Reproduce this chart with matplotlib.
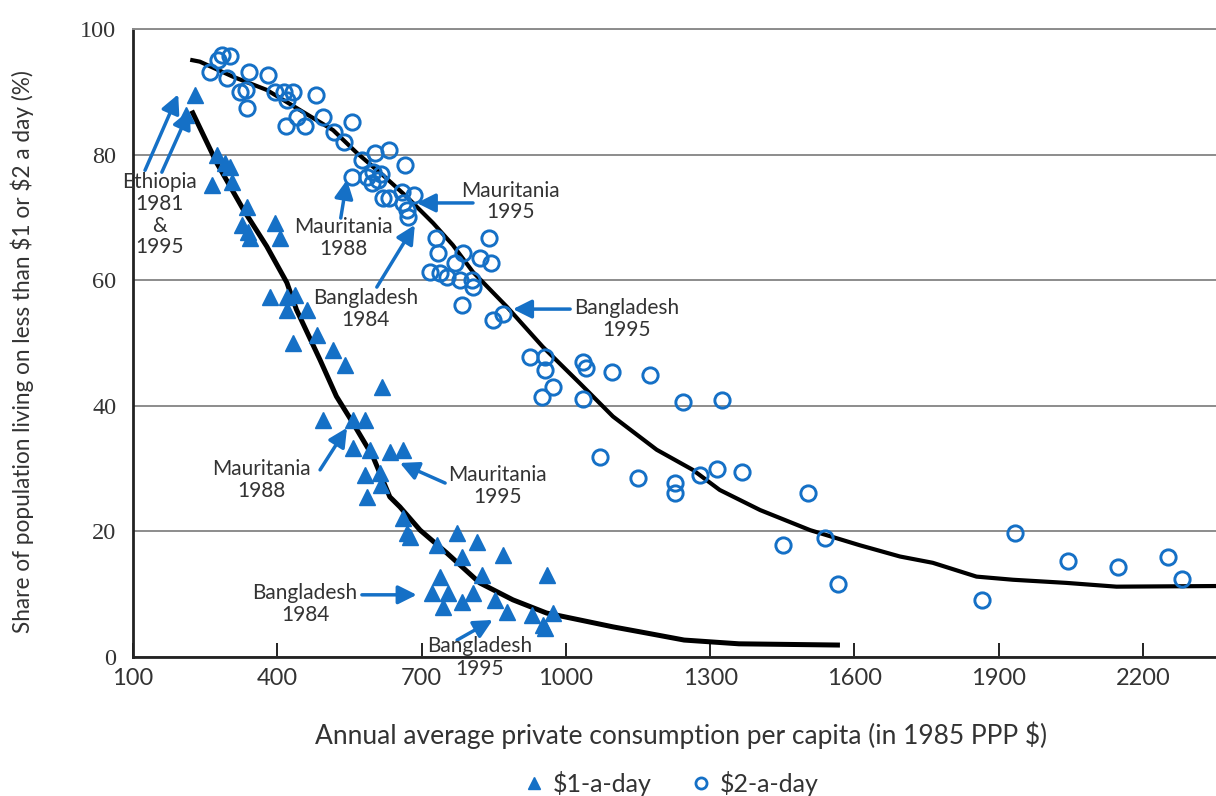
import matplotlib
matplotlib.use('Agg')
import matplotlib.pyplot as plt
from matplotlib.lines import Line2D

plt.rcParams['font.family'] = ['Lato', 'DejaVu Sans']

BLUE = '#1570c6'
TXT = '#333333'

# $1-a-day observations (consumption, % poor)
one_x = [229, 210, 275, 291, 302, 264, 306, 337, 327, 339, 343, 395, 406,
         385, 420, 437, 420, 462, 483, 433, 516, 541, 618, 495, 557, 582,
         557, 593, 634, 661, 582, 614, 616, 586, 661, 670, 676, 774, 815,
         732, 784, 869, 961, 738, 826, 722, 755, 807, 745, 784, 853, 878,
         930, 973, 952, 957]
one_y = [89.5, 86.3, 79.9, 78.7, 78.0, 75.2, 75.6, 71.7, 68.8, 67.7, 66.7,
         69.1, 66.7, 57.3, 57.3, 57.6, 55.3, 55.3, 51.3, 50.0, 48.9, 46.5,
         43.0, 37.7, 37.7, 37.7, 33.3, 33.0, 32.6, 33.0, 29.0, 29.3, 27.4,
         25.5, 22.1, 19.7, 19.1, 19.7, 18.3, 17.8, 15.9, 16.2, 13.1, 12.7,
         13.1, 10.2, 10.2, 10.2, 8.0, 8.8, 9.1, 7.2, 6.7, 7.0, 5.1, 4.6]

# $2-a-day observations
two_x = [260, 277, 285, 302, 295, 341, 322, 335, 337, 381, 395, 414, 433,
         420, 441, 418, 458, 480, 495, 518, 539, 555, 576, 603, 632, 665,
         555, 586, 599, 616, 597, 609, 620, 632, 659, 684, 661, 670, 672,
         730, 840, 734, 786, 821, 844, 769, 717, 738, 753, 780, 805, 807,
         784, 848, 869, 925, 957, 957, 1036, 1042, 1096, 1175, 973, 950,
         1036, 1243, 1325, 1071, 1150, 1227, 1227, 1279, 1314, 1366, 1503,
         1451, 1539, 1566, 1865, 1934, 2044, 2148, 2252, 2281]
two_y = [93.2, 95.1, 95.9, 95.7, 92.2, 93.2, 90.0, 90.3, 87.4, 92.7, 90.0,
         90.0, 90.0, 88.7, 86.0, 84.6, 84.6, 89.5, 86.0, 83.6, 82.0, 85.2,
         79.1, 80.3, 80.7, 78.3, 76.4, 76.4, 77.2, 76.9, 75.5, 76.0, 73.1,
         73.1, 74.0, 73.6, 72.3, 71.2, 70.1, 66.7, 66.7, 64.3, 64.3, 63.5,
         62.7, 62.7, 61.3, 61.1, 60.5, 60.0, 60.0, 58.9, 56.1, 53.7, 54.6,
         47.8, 47.8, 45.7, 47.0, 46.0, 45.4, 44.9, 43.0, 41.4, 41.1, 40.6,
         40.9, 31.8, 28.5, 27.7, 26.1, 29.0, 29.9, 29.5, 26.1, 17.8, 18.9,
         11.6, 9.1, 19.7, 15.3, 14.3, 15.9, 12.4]

# fitted curves
fit1_x = [222, 274, 329, 378, 420, 440, 489, 523, 557, 599, 634, 655, 697,
          752, 821, 890, 960, 1029, 1098, 1169, 1246, 1360, 1570]
fit1_y = [87.0, 78.7, 71.3, 65.4, 59.6, 55.3, 47.3, 41.5, 37.3, 31.9, 25.5,
          23.9, 20.2, 16.6, 11.8, 9.1, 7.0, 5.9, 4.8, 3.8, 2.7, 2.1, 1.9]
fit2_x = [219, 239, 308, 378, 447, 516, 565, 620, 669, 724, 765, 807, 877,
          952, 1029, 1098, 1189, 1264, 1320, 1404, 1508, 1611, 1695, 1763,
          1854, 1930, 2041, 2145, 2352]
fit2_y = [95.1, 94.8, 92.4, 90.3, 87.1, 83.9, 80.3, 76.7, 73.3, 69.1, 65.6,
          61.3, 55.8, 49.4, 43.6, 38.3, 33.0, 29.8, 26.6, 23.4, 20.2, 17.8,
          16.0, 15.0, 12.8, 12.3, 11.8, 11.2, 11.3]

# country labels: text, text position, arrow tails, arrow heads
labels = ['Ethiopia\n1981\n&\n1995', 'Mauritania\n1988', 'Mauritania\n1995',
          'Bangladesh\n1984', 'Bangladesh\n1995', 'Mauritania\n1988',
          'Mauritania\n1995', 'Bangladesh\n1984', 'Bangladesh', '1995']
label_xy = [(156, 70.4), (537, 66.7), (884, 72.5), (584, 55.4), (1127, 53.8),
            (368, 28.2), (857, 27.2), (458, 8.4), (821, 1.7), (821, -1.9)]
arrow_tail = [(125, 77.5), (160, 77.2), (532, 69.9), (807, 72.3), (607, 58.9),
              (1009, 55.4), (489, 29.8), (749, 27.7), (576, 9.9), (774, 2.7)]
arrow_head = [(194, 89.6), (218, 87.1), (545, 76.0), (690, 72.3), (686, 68.8),
              (890, 55.4), (545, 36.5), (655, 30.9), (690, 9.9), (848, 5.9)]

xticks = [100, 400, 700, 1000, 1300, 1600, 1900, 2200]
yticks = [0, 20, 40, 60, 80, 100]

fig = plt.figure(figsize=(12.16, 7.96), dpi=100)
ax = fig.add_axes([133/1216, 139/796, 1083/1216, 628/796])
ax.set_xlim(100, 2352)
ax.set_ylim(0, 100)

ax.set_yticks(yticks)
ax.yaxis.grid(True, color='#8c8c8c', lw=1.4)
ax.set_axisbelow(True)
ax.set_xticks(xticks)
ax.tick_params(axis='x', direction='in', length=10, width=1.4, pad=8,
               labelsize=17, labelcolor=TXT, color='#222222')
ax.tick_params(axis='y', length=0, pad=12, labelsize=17.5, labelcolor=TXT)
for lab in ax.get_yticklabels():
    lab.set_fontfamily(['Liberation Serif', 'DejaVu Serif'])

ax.spines['right'].set_visible(False)
ax.spines['top'].set_color('#8c8c8c')
ax.spines['top'].set_linewidth(1.4)
ax.spines['left'].set_linewidth(2)
ax.spines['bottom'].set_linewidth(2)
ax.spines['left'].set_color('#222222')
ax.spines['bottom'].set_color('#222222')

ax.plot(fit1_x, fit1_y, color='black', lw=3.6, solid_capstyle='butt',
        solid_joinstyle='round', zorder=3)
ax.plot(fit2_x, fit2_y, color='black', lw=3.0, solid_capstyle='butt',
        solid_joinstyle='round', zorder=3)
ax.plot(one_x, one_y, ls='none', marker='^', ms=12, color=BLUE, mec=BLUE,
        zorder=4, clip_on=False)
ax.plot(two_x, two_y, ls='none', marker='o', ms=11, mfc='none', mec=BLUE,
        mew=2.1, zorder=4, clip_on=False)

for tail, head in zip(arrow_tail, arrow_head):
    ax.annotate('', xy=head, xytext=tail,
                arrowprops=dict(arrowstyle='-|>', color=BLUE, lw=2.5,
                                mutation_scale=28, shrinkA=0, shrinkB=0),
                zorder=5)
for txt, (tx, ty) in zip(labels, label_xy):
    ax.text(tx, ty, txt, ha='center', va='center', fontsize=15, color=TXT,
            linespacing=1.1, zorder=6, clip_on=False)

fig.text(22/1216, 1 - 352/796,
         'Share of population living on less than \\$1 or \\$2 a day (%)',
         rotation=90, ha='center', va='center', fontsize=16.3, color=TXT)
fig.text(681/1216, 1 - 735/796,
         'Annual average private consumption per capita (in 1985 PPP \\$)',
         ha='center', va='center', fontsize=19, color=TXT)

handles = [Line2D([], [], ls='none', marker='^', ms=9, color=BLUE),
           Line2D([], [], ls='none', marker='o', ms=8, mfc='none', mec=BLUE,
                  mew=2.0)]
fig.legend(handles, ['\\$1-a-day', '\\$2-a-day'], loc='center',
           bbox_to_anchor=(670/1216, 1 - 783/796), ncol=2, frameon=False,
           fontsize=18, handletextpad=0.25, columnspacing=1.5,
           handlelength=1.0, labelcolor=TXT)

fig.savefig('out.png', dpi=100)
